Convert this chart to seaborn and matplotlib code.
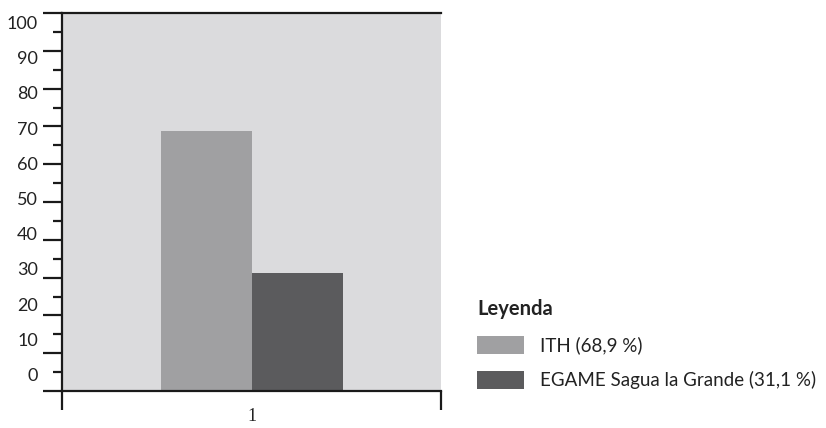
import numpy as np
import pandas as pd
import seaborn as sns
import matplotlib.pyplot as plt
from matplotlib.ticker import MultipleLocator, FixedLocator

# data
grupos = ["1", "1"]
series = ["ITH (68,9 %)", "EGAME Sagua la Grande (31,1 %)"]
valores = [68.9, 31.1]
colores = ["#a0a0a2", "#5b5b5d"]
y_ticks = list(range(0, 101, 10))

df = pd.DataFrame({"grupo": grupos, "serie": series, "valor": valores})

sns.set_theme(style="white")
plt.rcParams["font.family"] = ["Lato", "DejaVu Sans"]

fig = plt.figure(figsize=(8.26, 4.28), dpi=100)
ax = fig.add_axes([0.0754, 0.0864, 0.4585, 0.8832])
ax.set_facecolor("#dbdbdd")

sns.barplot(data=df, x="grupo", y="valor", hue="serie", palette=colores,
            saturation=1, errorbar=None, linewidth=0, ax=ax)

ax.set_ylim(0, 100)
ax.set_xlim(-0.832, 0.832)
ax.set_xlabel("")
ax.set_ylabel("")

# spines
for s in ["left", "top", "bottom"]:
    ax.spines[s].set_visible(True)
    ax.spines[s].set_linewidth(1.6)
    ax.spines[s].set_color("#1a1a1a")
ax.spines["right"].set_visible(False)

# y ticks: long every 10, short every 5, labels drawn by hand (offset like the original)
ax.yaxis.set_major_locator(FixedLocator(y_ticks))
ax.yaxis.set_minor_locator(MultipleLocator(5))
ax.tick_params(axis="y", which="major", direction="out", length=13.7, width=1.6,
               color="#1a1a1a", left=True, labelleft=False)
ax.tick_params(axis="y", which="minor", direction="out", length=6.5, width=1.6,
               color="#1a1a1a", left=True)
for v in y_ticks:
    ax.text(-0.064, 4 + 0.931 * v, str(v), transform=ax.get_yaxis_transform(),
            ha="right", va="center", fontsize=13, color="#222222")

# x ticks: frame ticks at the edges, "1" in the middle
ax.set_xticks([0], ["1"])
ax.xaxis.set_minor_locator(FixedLocator([-0.832, 0.832]))
ax.tick_params(axis="x", which="major", length=0, pad=12, labelsize=13,
               labelcolor="#222222")
ax.tick_params(axis="x", which="minor", direction="out", length=13.7, width=1.6,
               color="#1a1a1a", bottom=True)
for lab in ax.get_xticklabels():
    lab.set_family(["Liberation Serif", "DejaVu Serif"])

# legend
handles, labels = ax.get_legend_handles_labels()
leg = ax.legend(handles, labels, title="Leyenda", loc="upper left",
                bbox_to_anchor=(0.5666, 0.324), bbox_transform=fig.transFigure,
                frameon=False, borderpad=0, handlelength=2.5, handleheight=1.12,
                handletextpad=0.85, labelspacing=0.9, alignment="left",
                prop={"family": ["Lato", "DejaVu Sans"], "size": 13.5},
                title_fontproperties={"family": "Lato", "weight": "bold", "size": 14.5})
for t in leg.get_texts():
    t.set_color("#222222")
leg.get_title().set_color("#222222")

fig.savefig("out.png", dpi=100)
